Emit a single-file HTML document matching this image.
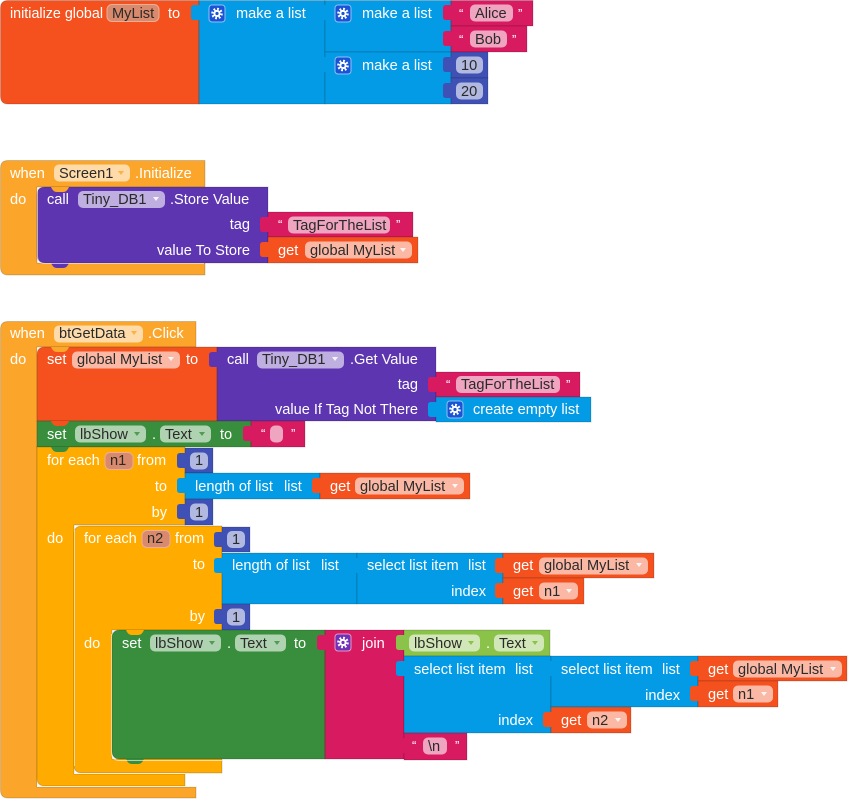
<!DOCTYPE html>
<html><head><meta charset="utf-8">
<style>
html,body{margin:0;padding:0;background:#fff;}
svg{display:block}
text{font-family:"Liberation Sans",Arial,sans-serif;font-size:14.6px;fill:#fff}
text.d{fill:#2a2a2a}
text.q{font-size:13px}
.b{stroke:rgba(0,0,0,.16);stroke-width:1}
.hl{stroke:rgba(255,255,255,.6);stroke-width:1;fill:none}
</style></head><body>
<svg width="848" height="799" viewBox="0 0 848 799" xmlns="http://www.w3.org/2000/svg">
<defs>
<g id="gear"><rect x="-8" y="-8.5" width="16" height="17" rx="3" fill="#1B53D6" stroke="#8CC3F2" stroke-width="1"/><circle r="4.6" fill="none" stroke="#fff" stroke-width="2.4" stroke-dasharray="1.8 1.8"/><circle r="3.6" fill="#fff"/><circle r="1.6" fill="#1B53D6"/></g>
<g id="gearp"><rect x="-8" y="-8.5" width="16" height="17" rx="3" fill="#7030B8" stroke="#E59AC0" stroke-width="1"/><circle r="4.6" fill="none" stroke="#fff" stroke-width="2.4" stroke-dasharray="1.8 1.8"/><circle r="3.6" fill="#fff"/><circle r="1.6" fill="#7030B8"/></g>
</defs>

<!-- ===== Block A: initialize global ===== -->
<path class="b" fill="#F4511E" d="M8,0.5H199V104H8Q0.5,104 0.5,96V8Q0.5,0.5 8,0.5Z"/>
<text x="10" y="18" textLength="93" lengthAdjust="spacingAndGlyphs">initialize global</text>
<rect x="107" y="4.5" width="52" height="17" rx="5" fill="#D98A6C" stroke="#EBAE96"/>
<text class="d" x="112" y="18">MyList</text>
<text x="168" y="18">to</text>

<rect class="b" x="199" y="0.5" width="126" height="103.5" fill="#039BE5"/>
<path fill="#039BE5" d="M200,5H194Q191,5 191,8V17Q191,20 194,20H200Z"/>
<use href="#gear" x="217" y="13.5"/>
<text x="236" y="18">make a list</text>

<rect class="b" x="325" y="0.5" width="126" height="51.5" fill="#039BE5"/>
<path fill="#039BE5" d="M326,5H320Q317,5 317,8V17Q317,20 320,20H326Z"/>
<use href="#gear" x="343" y="13.5"/>
<text x="362" y="18">make a list</text>

<rect class="b" x="325" y="52" width="126" height="52" fill="#039BE5"/>
<path fill="#039BE5" d="M326,57H320Q317,57 317,60V69Q317,72 320,72H326Z"/>
<use href="#gear" x="343" y="65.5"/>
<text x="362" y="70">make a list</text>

<rect class="b" x="451" y="0.5" width="82" height="25.5" fill="#D81B60"/>
<path fill="#D81B60" d="M452,5H446Q443,5 443,8V17Q443,20 446,20H452Z"/>
<text class="q" x="459" y="18">“</text>
<rect x="470" y="4.5" width="43" height="17" rx="5" fill="#EFA4BF"/>
<text class="d" x="475" y="18">Alice</text>
<text class="q" x="518" y="18">”</text>

<rect class="b" x="451" y="26" width="76" height="26" fill="#D81B60"/>
<path fill="#D81B60" d="M452,31H446Q443,31 443,34V43Q443,46 446,46H452Z"/>
<text class="q" x="459" y="44">“</text>
<rect x="470" y="30.5" width="37" height="17" rx="5" fill="#EFA4BF"/>
<text class="d" x="475" y="44">Bob</text>
<text class="q" x="512" y="44">”</text>

<rect class="b" x="451" y="52" width="37" height="26" fill="#3F51B5"/>
<path fill="#3F51B5" d="M452,57H446Q443,57 443,60V69Q443,72 446,72H452Z"/>
<rect x="456" y="56.5" width="27" height="17" rx="5" fill="#B2B9E1"/>
<text class="d" x="461" y="70">10</text>

<rect class="b" x="451" y="78" width="37" height="26" fill="#3F51B5"/>
<path fill="#3F51B5" d="M452,83H446Q443,83 443,86V95Q443,98 446,98H452Z"/>
<rect x="456" y="82.5" width="27" height="17" rx="5" fill="#B2B9E1"/>
<text class="d" x="461" y="96">20</text>

<!-- ===== Block B: when Screen1.Initialize ===== -->
<path class="b" fill="#FBA62A" d="M8,160.5H205V187H37V263H205V275H8Q0.5,275 0.5,267V168Q0.5,160.5 8,160.5Z"/>
<text x="10" y="178">when</text>
<rect x="54" y="164.5" width="76" height="17" rx="5" fill="#FEDBA9"/>
<text class="d" x="59" y="178">Screen1</text>
<path fill="#FBA62A" opacity=".8" d="M118,171h6l-3,4z"/>
<text x="135" y="178">.Initialize</text>
<text x="10" y="204">do</text>

<path class="b" fill="#5E35B1" d="M45,187H268V263H45Q37,263 37,255V195Q37,187 45,187Z"/>
<path fill="#FBA62A" d="M51,187Q53,192 57,192H63Q67,192 69,187Z"/>
<path fill="#5E35B1" d="M51,263Q53,268 57,268H63Q67,268 69,263Z"/>
<path class="hl" d="M37.5,188V256Q37.5,263.5 45,263.5H204"/>
<text x="47" y="204">call</text>
<rect x="78" y="191" width="87" height="17" rx="5" fill="#BFAEE0"/>
<text class="d" x="83" y="204">Tiny_DB1</text>
<path fill="#fff" opacity=".85" d="M153,197h6l-3,4z"/>
<text x="170" y="204">.Store Value</text>
<text x="250" y="229" text-anchor="end">tag</text>
<text x="250" y="255" text-anchor="end">value To Store</text>

<rect class="b" x="268" y="212" width="145" height="25" fill="#D81B60"/>
<path fill="#D81B60" d="M269,217H263Q260,217 260,220V229Q260,232 263,232H269Z"/>
<text class="q" x="278" y="229">“</text>
<rect x="288" y="216.5" width="102" height="17" rx="5" fill="#EFA4BF"/>
<text class="d" x="293" y="230">TagForTheList</text>
<text class="q" x="396" y="229">”</text>

<rect class="b" x="268" y="237" width="150" height="26" fill="#F4511E"/>
<path fill="#F4511E" d="M269,242H263Q260,242 260,245V254Q260,257 263,257H269Z"/>
<text x="278" y="255">get</text>
<rect x="305" y="241.5" width="107" height="17" rx="5" fill="#FBB9A5"/>
<text class="d" x="310" y="255">global MyList</text>
<path fill="#fff" opacity=".85" d="M400,248h6l-3,4z"/>

<!-- ===== Block C: when btGetData.Click ===== -->
<path class="b" fill="#FBA62A" d="M8,321.5H196V347H37V787H196V798H8Q0.5,798 0.5,790V329Q0.5,321.5 8,321.5Z"/>
<text x="10" y="338">when</text>
<rect x="54" y="325.5" width="89" height="17" rx="5" fill="#FEDBA9"/>
<text class="d" x="59" y="338">btGetData</text>
<path fill="#FBA62A" opacity=".8" d="M131,331h6l-3,4z"/>
<text x="148" y="338">.Click</text>
<text x="10" y="364">do</text>
<path class="hl" d="M37.5,348V787"/>

<!-- set global MyList -->
<path class="b" fill="#F4511E" d="M45,347H217V421H37V355Q37,347 45,347Z"/>
<path fill="#FBA62A" d="M51,347Q53,352 57,352H63Q67,352 69,347Z"/>
<text x="47" y="364">set</text>
<rect x="72" y="351.5" width="108" height="17" rx="5" fill="#FBB9A5"/>
<text class="d" x="77" y="364">global MyList</text>
<path fill="#fff" opacity=".85" d="M168,357h6l-3,4z"/>
<text x="186" y="364">to</text>

<rect class="b" x="217" y="347" width="219" height="74" fill="#5E35B1"/>
<path fill="#5E35B1" d="M218,352H212Q209,352 209,355V364Q209,367 212,367H218Z"/>
<text x="227" y="364">call</text>
<rect x="257" y="351.5" width="87" height="17" rx="5" fill="#BFAEE0"/>
<text class="d" x="262" y="364">Tiny_DB1</text>
<path fill="#fff" opacity=".85" d="M332,357h6l-3,4z"/>
<text x="350" y="364">.Get Value</text>
<text x="418" y="389" text-anchor="end">tag</text>
<text x="418" y="414" text-anchor="end">value If Tag Not There</text>

<rect class="b" x="436" y="372" width="144" height="25" fill="#D81B60"/>
<path fill="#D81B60" d="M437,377H431Q428,377 428,380V389Q428,392 431,392H437Z"/>
<text class="q" x="446" y="389">“</text>
<rect x="456" y="376" width="104" height="17" rx="5" fill="#EFA4BF"/>
<text class="d" x="461" y="389">TagForTheList</text>
<text class="q" x="566" y="389">”</text>

<rect class="b" x="436" y="397" width="155" height="25" fill="#039BE5"/>
<path fill="#039BE5" d="M437,402H431Q428,402 428,405V414Q428,417 431,417H437Z"/>
<use href="#gear" x="455" y="409.5"/>
<text x="473" y="414">create empty list</text>

<!-- set lbShow.Text to "" -->
<rect class="b" x="37" y="421" width="214" height="26" fill="#388E3C"/>
<path fill="#F4511E" d="M51,421Q53,426 57,426H63Q67,426 69,421Z"/>
<text x="47" y="439">set</text>
<rect x="75" y="425.5" width="71" height="17" rx="5" fill="#AFD2B1"/>
<text class="d" x="80" y="439">lbShow</text>
<path fill="#388E3C" opacity=".8" d="M134,432h6l-3,4z"/>
<text x="152" y="439">.</text>
<rect x="160" y="425.5" width="51" height="17" rx="5" fill="#AFD2B1"/>
<text class="d" x="165" y="439">Text</text>
<path fill="#388E3C" opacity=".8" d="M199,432h6l-3,4z"/>
<text x="220" y="439">to</text>

<rect class="b" x="251" y="421" width="54" height="26" fill="#D81B60"/>
<path fill="#D81B60" d="M252,426H246Q243,426 243,429V438Q243,441 246,441H252Z"/>
<text class="q" x="261" y="438">“</text>
<rect x="270" y="425.5" width="13" height="17" rx="5" fill="#EFA4BF"/>
<text class="q" x="291" y="438">”</text>

<!-- for each n1 -->
<path class="b" fill="#FFAB00" d="M37,447H185V525H74V774H185V786H45Q37,786 37,778Z"/>
<path fill="#388E3C" d="M51,447Q53,452 57,452H63Q67,452 69,447Z"/>
<text x="47" y="465">for each</text>
<rect x="105" y="452.5" width="28" height="17" rx="5" fill="#D98A6C" stroke="#EBAE96"/>
<text class="d" x="110" y="465">n1</text>
<text x="137" y="465">from</text>
<text x="167" y="491" text-anchor="end">to</text>
<text x="167" y="517" text-anchor="end">by</text>
<text x="47" y="543">do</text>

<rect class="b" x="185" y="448" width="28" height="25" fill="#3F51B5"/>
<path fill="#3F51B5" d="M186,453H180Q177,453 177,456V465Q177,468 180,468H186Z"/>
<rect x="190" y="452.5" width="18" height="17" rx="5" fill="#B2B9E1"/>
<text class="d" x="195" y="465">1</text>

<rect class="b" x="185" y="473" width="135" height="26" fill="#039BE5"/>
<path fill="#039BE5" d="M186,478H180Q177,478 177,481V490Q177,493 180,493H186Z"/>
<text x="195" y="491">length of list</text>
<text x="284" y="491">list</text>

<rect class="b" x="320" y="473" width="150" height="26" fill="#F4511E"/>
<path fill="#F4511E" d="M321,478H315Q312,478 312,481V490Q312,493 315,493H321Z"/>
<text x="330" y="491">get</text>
<rect x="355" y="477.5" width="109" height="17" rx="5" fill="#FBB9A5"/>
<text class="d" x="360" y="491">global MyList</text>
<path fill="#fff" opacity=".85" d="M452,484h6l-3,4z"/>

<rect class="b" x="185" y="499" width="28" height="26" fill="#3F51B5"/>
<path fill="#3F51B5" d="M186,504H180Q177,504 177,507V516Q177,519 180,519H186Z"/>
<rect x="190" y="503.5" width="18" height="17" rx="5" fill="#B2B9E1"/>
<text class="d" x="195" y="517">1</text>

<!-- for each n2 -->
<path class="b" fill="#FFAB00" d="M82,526H222V630H112V759H222V773H82Q74,773 74,765V534Q74,526 82,526Z"/>
<path class="hl" d="M74.5,530V766"/>
<path class="hl" d="M37,786.5H196"/>
<path class="hl" d="M74,773.5H185"/>
<text x="84" y="543">for each</text>
<rect x="142" y="530.5" width="28" height="17" rx="5" fill="#D98A6C" stroke="#EBAE96"/>
<text class="d" x="147" y="543">n2</text>
<text x="175" y="543">from</text>
<text x="205" y="569" text-anchor="end">to</text>
<text x="205" y="621" text-anchor="end">by</text>
<text x="84" y="648">do</text>

<rect class="b" x="222" y="527" width="28" height="25" fill="#3F51B5"/>
<path fill="#3F51B5" d="M223,532H217Q214,532 214,535V544Q214,547 217,547H223Z"/>
<rect x="227" y="531" width="18" height="17" rx="5" fill="#B2B9E1"/>
<text class="d" x="232" y="544">1</text>

<rect class="b" x="222" y="553" width="135" height="51" fill="#039BE5"/>
<path fill="#039BE5" d="M223,558H217Q214,558 214,561V570Q214,573 217,573H223Z"/>
<text x="232" y="570">length of list</text>
<text x="321" y="570">list</text>

<rect class="b" x="357" y="553" width="146" height="51" fill="#039BE5"/>
<path fill="#039BE5" d="M358,558H352Q349,558 349,561V570Q349,573 352,573H358Z"/>
<text x="367" y="570">select list item</text>
<text x="468" y="570">list</text>
<text x="486" y="596" text-anchor="end">index</text>

<rect class="b" x="503" y="553" width="151" height="25" fill="#F4511E"/>
<path fill="#F4511E" d="M504,558H498Q495,558 495,561V570Q495,573 498,573H504Z"/>
<text x="513" y="570">get</text>
<rect x="539" y="557.5" width="109" height="17" rx="5" fill="#FBB9A5"/>
<text class="d" x="544" y="570">global MyList</text>
<path fill="#fff" opacity=".85" d="M636,563h6l-3,4z"/>

<rect class="b" x="503" y="578" width="81" height="26" fill="#F4511E"/>
<path fill="#F4511E" d="M504,583H498Q495,583 495,586V595Q495,598 498,598H504Z"/>
<text x="513" y="596">get</text>
<rect x="539" y="582.5" width="39" height="17" rx="5" fill="#FBB9A5"/>
<text class="d" x="544" y="596">n1</text>
<path fill="#fff" opacity=".85" d="M566,589h6l-3,4z"/>

<rect class="b" x="222" y="604" width="28" height="26" fill="#3F51B5"/>
<path fill="#3F51B5" d="M223,609H217Q214,609 214,612V621Q214,624 217,624H223Z"/>
<rect x="227" y="608.5" width="18" height="17" rx="5" fill="#B2B9E1"/>
<text class="d" x="232" y="622">1</text>

<!-- set lbShow.Text to join -->
<path class="b" fill="#388E3C" d="M120,630H325V759H120Q112,759 112,751V638Q112,630 120,630Z"/>
<path fill="#FFAB00" d="M126,630Q128,635 132,635H138Q142,635 144,630Z"/>
<path fill="#388E3C" d="M126,759Q128,764 132,764H138Q142,764 144,759Z"/>
<path class="hl" d="M111.5,634V752Q111.5,760.5 120,760.5H222"/>
<text x="122" y="648">set</text>
<rect x="150" y="634.5" width="71" height="17" rx="5" fill="#AFD2B1"/>
<text class="d" x="155" y="648">lbShow</text>
<path fill="#388E3C" opacity=".8" d="M209,641h6l-3,4z"/>
<text x="227" y="648">.</text>
<rect x="235" y="634.5" width="51" height="17" rx="5" fill="#AFD2B1"/>
<text class="d" x="240" y="648">Text</text>
<path fill="#388E3C" opacity=".8" d="M274,641h6l-3,4z"/>
<text x="294" y="648">to</text>

<rect class="b" x="325" y="630" width="79" height="129" fill="#D81B60"/>
<path fill="#D81B60" d="M326,635H320Q317,635 317,638V647Q317,650 320,650H326Z"/>
<use href="#gearp" x="343" y="642.5"/>
<text x="362" y="648">join</text>

<rect class="b" x="404" y="630" width="146" height="26" fill="#8BC34A"/>
<path fill="#8BC34A" d="M405,635H399Q396,635 396,638V647Q396,650 399,650H405Z"/>
<rect x="409" y="634.5" width="71" height="17" rx="5" fill="#D1E7B7"/>
<text class="d" x="414" y="648">lbShow</text>
<path fill="#8BC34A" d="M468,641h6l-3,4z"/>
<text x="486" y="648">.</text>
<rect x="494" y="634.5" width="50" height="17" rx="5" fill="#D1E7B7"/>
<text class="d" x="499" y="648">Text</text>
<path fill="#8BC34A" d="M532,641h6l-3,4z"/>

<rect class="b" x="404" y="656" width="147" height="77" fill="#039BE5"/>
<path fill="#039BE5" d="M405,661H399Q396,661 396,664V673Q396,676 399,676H405Z"/>
<text x="414" y="674">select list item</text>
<text x="515" y="674">list</text>
<text x="533" y="725" text-anchor="end">index</text>

<rect class="b" x="551" y="656" width="147" height="51" fill="#039BE5"/>
<path fill="#039BE5" d="M552,661H546Q543,661 543,664V673Q543,676 546,676H552Z"/>
<text x="561" y="674">select list item</text>
<text x="662" y="674">list</text>
<text x="680" y="700" text-anchor="end">index</text>

<rect class="b" x="698" y="656" width="149" height="25" fill="#F4511E"/>
<path fill="#F4511E" d="M699,661H693Q690,661 690,664V673Q690,676 693,676H699Z"/>
<text x="708" y="674">get</text>
<rect x="733" y="660.5" width="109" height="17" rx="5" fill="#FBB9A5"/>
<text class="d" x="738" y="674">global MyList</text>
<path fill="#fff" opacity=".85" d="M830,667h6l-3,4z"/>

<rect class="b" x="698" y="681" width="80" height="26" fill="#F4511E"/>
<path fill="#F4511E" d="M699,686H693Q690,686 690,689V698Q690,701 693,701H699Z"/>
<text x="708" y="699">get</text>
<rect x="733" y="685.5" width="40" height="17" rx="5" fill="#FBB9A5"/>
<text class="d" x="738" y="699">n1</text>
<path fill="#fff" opacity=".85" d="M761,692h6l-3,4z"/>

<rect class="b" x="551" y="707" width="80" height="26" fill="#F4511E"/>
<path fill="#F4511E" d="M552,712H546Q543,712 543,715V724Q543,727 546,727H552Z"/>
<text x="561" y="725">get</text>
<rect x="587" y="711.5" width="40" height="17" rx="5" fill="#FBB9A5"/>
<text class="d" x="592" y="725">n2</text>
<path fill="#fff" opacity=".85" d="M615,718h6l-3,4z"/>

<rect class="b" x="404" y="733" width="63" height="27" fill="#D81B60"/>
<path fill="#D81B60" d="M405,738H399Q396,738 396,741V750Q396,753 399,753H405Z"/>
<text class="q" x="412" y="750">“</text>
<rect x="423" y="737.5" width="24" height="17" rx="5" fill="#EFA4BF"/>
<text class="d" x="428" y="751">\n</text>
<text class="q" x="455" y="750">”</text>
</svg>
</body></html>
